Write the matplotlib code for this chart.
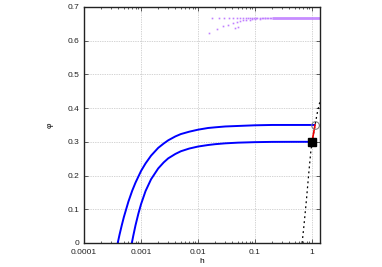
import matplotlib.pyplot as plt
from matplotlib.ticker import LogLocator, FixedLocator, NullFormatter

plt.rcParams['font.family'] = ['Liberation Sans', 'DejaVu Sans']

# upper blue curve
h_up = [3.9e-4, 4.2e-4, 4.6e-4, 5e-4, 6e-4, 7e-4, 8e-4, 1e-3, 1.2e-3, 1.5e-3, 2e-3,
        2.5e-3, 3e-3, 4e-3, 5e-3, 7e-3, 1e-2, 1.5e-2, 2e-2, 3e-2, 5e-2, 0.1, 0.2, 0.5, 1.1]
phi_up = [0.0, 0.025, 0.053, 0.077, 0.1225, 0.155, 0.179, 0.2135, 0.236, 0.259, 0.282,
          0.295, 0.3045, 0.316, 0.323, 0.330, 0.336, 0.341, 0.343, 0.3455, 0.347, 0.349, 0.35, 0.35, 0.35]

# lower blue curve
h_lo = [6.9e-4, 7.3e-4, 8e-4, 9e-4, 1e-3, 1.2e-3, 1.5e-3, 2e-3, 2.5e-3, 3e-3, 4e-3,
        5e-3, 7e-3, 1e-2, 1.5e-2, 2e-2, 3e-2, 5e-2, 0.1, 0.2, 0.5, 1.0]
phi_lo = [0.0, 0.021, 0.0525, 0.0876, 0.115, 0.154, 0.189, 0.221, 0.239, 0.251, 0.264,
          0.272, 0.280, 0.286, 0.2905, 0.293, 0.2955, 0.2975, 0.299, 0.2998, 0.30, 0.30]

# black dotted line
h_dot = [0.67, 0.72, 0.80, 0.88, 0.95, 1.0, 1.13, 1.25, 1.38]
phi_dot = [0.0, 0.05, 0.13, 0.21, 0.27, 0.30, 0.35, 0.39, 0.42]

# red segment: square -> circle
h_red = [1.0, 1.13]
phi_red = [0.30, 0.35]

# purple points
h_pa = [0.0178, 0.0236, 0.0288, 0.0352, 0.0412, 0.048, 0.055, 0.062, 0.069, 0.076,
        0.083, 0.09, 0.097, 0.104, 0.11, 0.12, 0.13, 0.14, 0.15, 0.16, 0.17, 0.18, 0.19]
phi_pa = [0.667] * len(h_pa)
h_pb = [0.0158, 0.0218, 0.0269, 0.0334, 0.0404, 0.0474, 0.054, 0.062, 0.07, 0.08,
        0.09, 0.1, 0.12, 0.15]
phi_pb = [0.624, 0.636, 0.642, 0.647, 0.652, 0.655, 0.658, 0.660, 0.661, 0.662,
          0.663, 0.664, 0.665, 0.666]
h_pc = [0.044, 0.050]
phi_pc = [0.637, 0.641]
h_band = [0.2, 1.38]
phi_band = [0.668, 0.668]

fig = plt.figure(figsize=(3.82, 2.67), dpi=100)
ax = fig.add_axes([0.22, 0.09, 0.6177, 0.884])

purple = '#c080ff'
ax.plot(h_band, phi_band, color=purple, lw=2.0, alpha=0.9, solid_capstyle='butt')
ax.plot(h_pa, phi_pa, ls='none', marker='s', ms=1.2, color=purple, mec='none')
ax.plot(h_pb, phi_pb, ls='none', marker='s', ms=1.2, color=purple, mec='none')
ax.plot(h_pc, phi_pc, ls='none', marker='s', ms=1.2, color=purple, mec='none')

ax.plot(h_up, phi_up, color='#0000ff', lw=1.4)
ax.plot(h_lo, phi_lo, color='#0000ff', lw=1.4)
ax.plot(h_dot, phi_dot, color='black', lw=0.9, ls=(0, (1.5, 2.5)))
ax.plot(h_red, phi_red, color='#ee0000', lw=1.2)
ax.plot([h_red[0]], [phi_red[0]], marker='s', ms=5.5, color='black', ls='none')
ax.plot([h_red[1]], [phi_red[1]], marker='o', ms=5.5, mfc='none', mec='#777777',
        mew=0.7, ls='none')

ax.set_xscale('log')
ax.set_xlim(1e-4, 1.38)
ax.set_ylim(0, 0.7)

ax.xaxis.set_major_locator(FixedLocator([1e-4, 1e-3, 1e-2, 1e-1, 1]))
ax.set_xticklabels(['0.0001', '0.001', '0.01', '0.1', '1'])
ax.xaxis.set_minor_locator(LogLocator(base=10, subs=range(2, 10)))
ax.xaxis.set_minor_formatter(NullFormatter())
ax.set_yticks([0, 0.1, 0.2, 0.3, 0.4, 0.5, 0.6, 0.7])
ax.set_yticklabels(['0', '0.1', '0.2', '0.3', '0.4', '0.5', '0.6', '0.7'])

ax.tick_params(which='both', direction='in', top=True, right=True,
               labelsize=6, colors='#222222', width=0.5)
ax.tick_params(which='major', length=3)
ax.tick_params(which='minor', length=1.5)
ax.tick_params(axis='x', which='major', pad=4)
ax.tick_params(axis='y', which='major', pad=3)

ax.grid(which='major', color='#aaaaaa', ls=(0, (1, 1.5)), lw=0.5)

for s in ax.spines.values():
    s.set_linewidth(1.0)
    s.set_color('#222222')

ax.set_xlabel('h', fontsize=6, labelpad=2)
ax.set_ylabel('φ', fontsize=6, labelpad=10)

fig.savefig('out.png', dpi=100)
